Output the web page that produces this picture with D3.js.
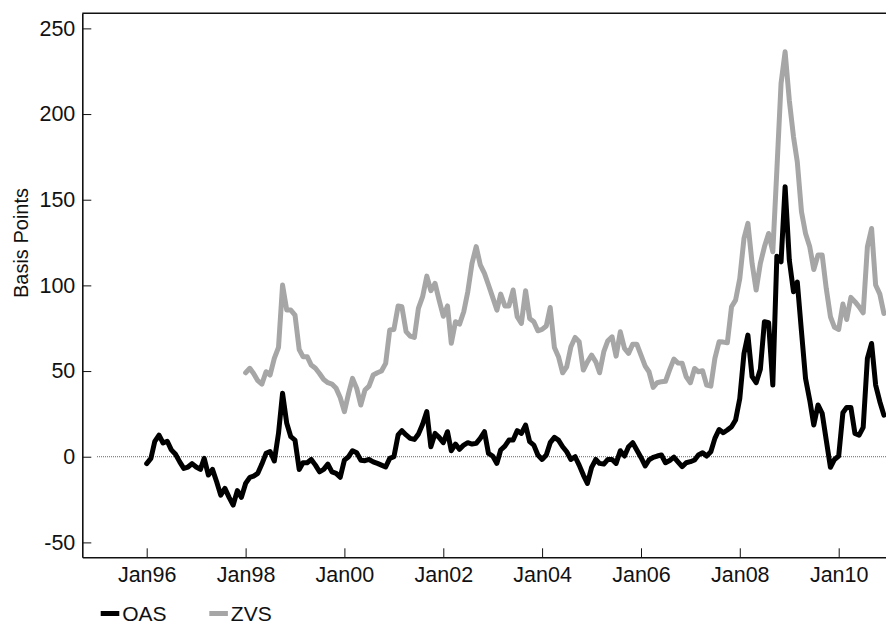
<!DOCTYPE html>
<html>
<head>
<meta charset="utf-8">
<script src="https://cdn.jsdelivr.net/npm/d3@7"></script>
<style>
  body { margin: 0; background: #fff; }
  svg { display: block; font-family: "Liberation Sans", Arial, Helvetica, sans-serif; }
</style>
</head>
<body>
<svg width="886" height="626"></svg>
<script>
// monthly spreads, basis points
const oasStart = new Date(1996, 0, 1)
const oasValues = [
  -4, -1, 9, 12.6, 8, 9, 4, 1.4, -3, -6.8, -6, -4,
  -6, -7.4, -1, -10.7, -7.4, -14.6, -22.4, -18.5, -23.7, -28.2, -19.8, -23.7,
  -15.6, -12, -11.3, -9.7, -4.3, 2, 3, -2.5, 13.6, 37, 19.5, 11.7,
  9.7, -7.4, -3.5, -3.5, -1.6, -4.9, -8.8, -7.4, -4.3, -8.8, -9.7, -12,
  -2, 0, 3.5, 2.3, -2, -2.3, -1.6, -3, -3.9, -4.9, -6, -1,
  0, 12.7, 15.2, 12.7, 10.7, 10.1, 13.2, 19, 26.3, 5.8, 13.6, 11.3,
  8.2, 14.6, 3.5, 7.4, 4.3, 6.8, 8.2, 7.4, 7.8, 10.7, 14.6, 1.9,
  0.4, -3.9, 3.9, 6.2, 9.7, 9.7, 15.2, 13.6, 18.5, 8.8, 6.8, 1,
  -1.6, 1, 8.2, 11.3, 9.7, 5.8, 2.9, -1.6, 0, -4.9, -10.7, -15.6,
  -6.2, -1.6, -3.9, -4.3, -1.6, -1.6, -3.9, 3.5, 0.4, 5.8, 8.2, 3.9,
  -0.4, -5.4, -1.9, -0.4, 0.4, 1, -3.5, -2.2, -0.2, -3, -5.8, -3.5,
  -2.9, -1.9, 1, 2.3, 0.4, 2.9, 10.7, 15.9, 14, 15.6, 17.5, 21.4,
  34, 60.3, 71, 46.7, 43.2, 51, 78.8, 78.2, 41.8, 117, 113.8, 157.6,
  114.8, 96.3, 102, 73, 45.7, 33, 18.5, 30.2, 25.3, 9.7, -6.2, -1.6,
  0.4, 25.7, 28.8, 28.8, 13.6, 12.6, 17.1, 57.4, 66.1, 41.8, 32.1, 24.3
]

const zvsStart = new Date(1998, 0, 1)
const zvsValues = [
  49, 51.6, 48.6, 44.4, 42.4, 49.6, 47.7, 57.4, 63.8, 100.2, 85.6, 85.6,
  82.7, 62.6, 58.4, 58.4, 53.5, 51.6, 48.6, 45.1, 43.2, 42.4, 39.9, 34.6,
  26.3, 37, 45.7, 39.9, 30.2, 38.9, 41.2, 47.7, 49, 50, 54.5, 74,
  74.3, 88, 87.5, 73, 70.4, 69.6, 86.6, 93.4, 105.4, 96.9, 101.2, 91.4,
  82, 88, 66.2, 78.8, 77.4, 84.6, 96.3, 112.8, 122.6, 112, 107, 100.2,
  93, 85.6, 94.9, 88, 88, 97.3, 81.7, 77.8, 96.9, 80.7, 78.8, 73.5,
  74.3, 76.3, 87.1, 63.8, 58.4, 49, 52.5, 64.2, 69.6, 67.1, 50.6, 55.4,
  59.3, 55.4, 49, 61.3, 67.7, 70, 58.7, 72.9, 63.2, 60.3, 65.7, 65.7,
  59.3, 52.9, 49.6, 40.5, 43.2, 43.8, 44, 50.8, 57, 54.7, 54.5, 46.7,
  43.2, 51.5, 49.6, 50.2, 41.8, 41.2, 57.4, 67.1, 66.9, 66.5, 87.5, 91.4,
  104, 127.4, 136.2, 112.8, 97.3, 112.8, 122.5, 130.3, 119.6, 167.3, 217.9, 236.3,
  208, 186.7, 172.1, 143, 130.3, 122.5, 109.3, 117.7, 117.7, 98.2, 81.7, 75.5,
  74.3, 89.1, 80.1, 93, 90.5, 87.5, 84, 122.5, 133.2, 100.2, 94.9, 83.6
]

const xTickYears = [1996, 1998, 2000, 2002, 2004, 2006, 2008, 2010]
const yTicks = [-50, 0, 50, 100, 150, 200, 250]
const seriesNames = ['OAS', 'ZVS']
const seriesColors = ['#000000', '#a6a6a6']

const svg = d3.select('svg')
const plotLeft = 82.3
const plotRight = 886
const plotTop = 13.3
const plotBottom = 557.3

function toPoints (start, values) {
  return values.map(function (v, i) {
    return { date: d3.timeMonth.offset(start, i), value: v }
  })
}

const oas = toPoints(oasStart, oasValues)
const zvs = toPoints(zvsStart, zvsValues)

// place Jan96 and Jan10 where the reference puts them, then stretch to the frame
const tmp = d3.scaleTime()
  .domain([new Date(1996, 0, 1), new Date(2010, 0, 1)])
  .range([146.7, 838.7])
const x = d3.scaleTime()
  .domain([tmp.invert(plotLeft), tmp.invert(plotRight)])
  .range([plotLeft, plotRight])

const y = d3.scaleLinear()
  .domain([-58.7, 258.8])
  .range([plotBottom, plotTop])

// zero line
svg.append('line')
  .attr('x1', 97).attr('x2', plotRight)
  .attr('y1', y(0)).attr('y2', y(0))
  .attr('stroke', '#666')
  .attr('stroke-width', 1)
  .attr('stroke-dasharray', '1,1')

const line = d3.line()
  .x(function (d) { return x(d.date) })
  .y(function (d) { return y(d.value) })

svg.append('path')
  .datum(zvs)
  .attr('d', line)
  .attr('fill', 'none')
  .attr('stroke', seriesColors[1])
  .attr('stroke-width', 5)
  .attr('stroke-linejoin', 'round')
  .attr('stroke-linecap', 'round')

svg.append('path')
  .datum(oas)
  .attr('d', line)
  .attr('fill', 'none')
  .attr('stroke', seriesColors[0])
  .attr('stroke-width', 5)
  .attr('stroke-linejoin', 'round')
  .attr('stroke-linecap', 'round')

const xAxis = d3.axisBottom(x)
  .tickValues(xTickYears.map(function (yr) { return new Date(yr, 0, 1) }))
  .tickFormat(d3.timeFormat('%b%y'))
  .tickSizeInner(-9)
  .tickSizeOuter(0)
  .tickPadding(9)

const yAxis = d3.axisLeft(y)
  .tickValues(yTicks)
  .tickFormat(function (d) { return String(d) })
  .tickSizeInner(-9)
  .tickSizeOuter(0)
  .tickPadding(7)

const gx = svg.append('g')
  .attr('transform', 'translate(0,' + plotBottom + ')')
  .call(xAxis)

const gy = svg.append('g')
  .attr('transform', 'translate(' + plotLeft + ',0)')
  .call(yAxis)

;[gx, gy].forEach(function (g) {
  g.select('.domain').attr('stroke', '#111').attr('stroke-width', 1.6)
  g.selectAll('.tick line').attr('stroke', '#111').attr('stroke-width', 1)
  g.selectAll('.tick text')
    .attr('fill', '#111')
    .style('font-size', '21.5px')
    .style('font-family', '"Liberation Sans", Arial, Helvetica, sans-serif')
})

// top border of the frame
svg.append('line')
  .attr('x1', plotLeft).attr('x2', plotRight)
  .attr('y1', plotTop).attr('y2', plotTop)
  .attr('stroke', '#111')
  .attr('stroke-width', 1.6)

svg.append('text')
  .attr('transform', 'translate(28,243) rotate(-90)')
  .attr('text-anchor', 'middle')
  .attr('fill', '#111')
  .style('font-size', '20px')
  .text('Basis Points')

// legend
const legend = svg.append('g')
  .selectAll('g')
  .data(seriesNames)
  .enter().append('g')
  .attr('transform', function (d, i) { return 'translate(' + (100.7 + i * 108.6) + ',613.5)' })

legend.append('line')
  .attr('x1', 0).attr('x2', 18.6)
  .attr('stroke', function (d, i) { return seriesColors[i] })
  .attr('stroke-width', 5)

legend.append('text')
  .attr('x', 21.5)
  .attr('y', 7)
  .attr('fill', '#111')
  .style('font-size', '21px')
  .text(function (d) { return d })
</script>
</body>
</html>
